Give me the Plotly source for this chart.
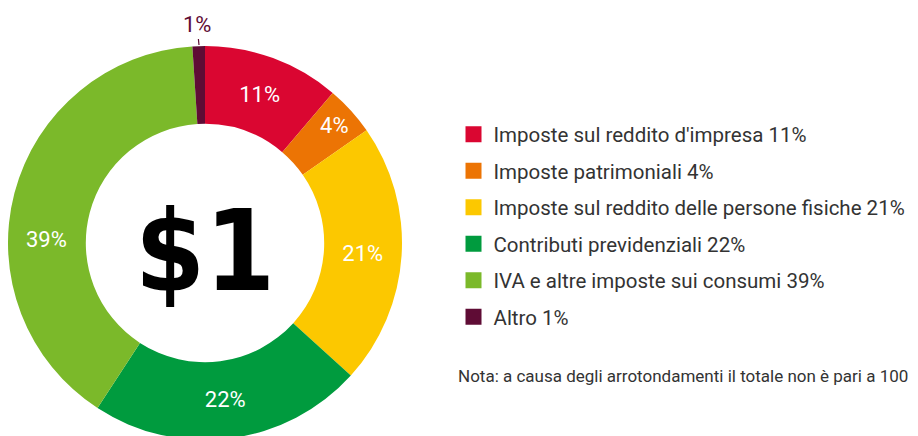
import plotly.graph_objects as go

categories = [
    "Imposte sul reddito d'impresa",
    "Imposte patrimoniali",
    "Imposte sul reddito delle persone fisiche",
    "Contributi previdenziali",
    "IVA e altre imposte sui consumi",
    "Altro",
]
values = [11, 4, 21, 22, 39, 1]
colors = ["#DA0631", "#EC7404", "#FCC800", "#009B3E", "#7BB92A", "#5F0C35"]
center_label = "$1"
note = "Nota: a causa degli arrotondamenti il totale non è pari a 100"

W, H = 918, 436
cx, cy, r = 197, 235, 197  # pixel geometry of donut (from top-left)

labels_txt = [f"{v}%" for v in values]
# slices whose labels are placed separately (as annotations)
slice_text = [t if i not in (4, 5) else "" for i, t in enumerate(labels_txt)]

fig = go.Figure()
fig.add_trace(go.Pie(
    values=values,
    labels=categories,
    text=slice_text,
    textinfo="text",
    textposition="inside",
    insidetextorientation="horizontal",
    textfont=dict(family="Roboto", size=22, color="white"),
    marker=dict(colors=colors, line=dict(width=0)),
    sort=False,
    direction="clockwise",
    rotation=0,
    hole=0.605,
    showlegend=False,
    domain=dict(x=[(cx - r) / W, (cx + r) / W], y=[(H - cy - r) / H, (H - cy + r) / H]),
    title=dict(text=center_label, position="middle center",
               font=dict(family="Liberation Sans Narrow, DejaVu Sans Condensed", size=112,
                         color="black", weight="bold")),
    hoverinfo="label+value",
))

for cat, v, c in zip(categories, values, colors):
    fig.add_trace(go.Scatter(
        x=[None], y=[None], mode="markers",
        marker=dict(symbol="square", size=19, color=c),
        name=f"{cat} {v}%", legendgroup=cat, showlegend=True,
    ))

annotations = [
    dict(text=note, x=448 / W, y=(H - 368) / H, xref="paper", yref="paper",
         xanchor="left", yanchor="middle", showarrow=False,
         font=dict(family="Roboto", size=17, color="#333333")),
    dict(text=labels_txt[4], x=38 / W, y=(H - 232) / H, xref="paper", yref="paper",
         xanchor="center", yanchor="middle", showarrow=False,
         font=dict(family="Roboto", size=22, color="white")),
    dict(text=labels_txt[5], x=191 / W, y=(H - 37) / H, xref="paper", yref="paper",
         ax=-2, ay=-20, showarrow=True, arrowhead=0, arrowwidth=1.2,
         arrowcolor=colors[5], standoff=0,
         font=dict(family="Roboto", size=22, color=colors[5])),
]

fig.update_layout(
    width=W, height=H,
    margin=dict(l=0, r=0, t=0, b=0),
    paper_bgcolor="white", plot_bgcolor="white",
    xaxis=dict(visible=False), yaxis=dict(visible=False),
    legend=dict(x=0.4853, y=0.756, xanchor="left", yanchor="top",
                font=dict(family="Roboto", size=20.5, color="#333333"),
                tracegroupgap=6.85, itemsizing="trace", bgcolor="rgba(0,0,0,0)"),
    annotations=annotations,
)

fig.write_html("out.html")
